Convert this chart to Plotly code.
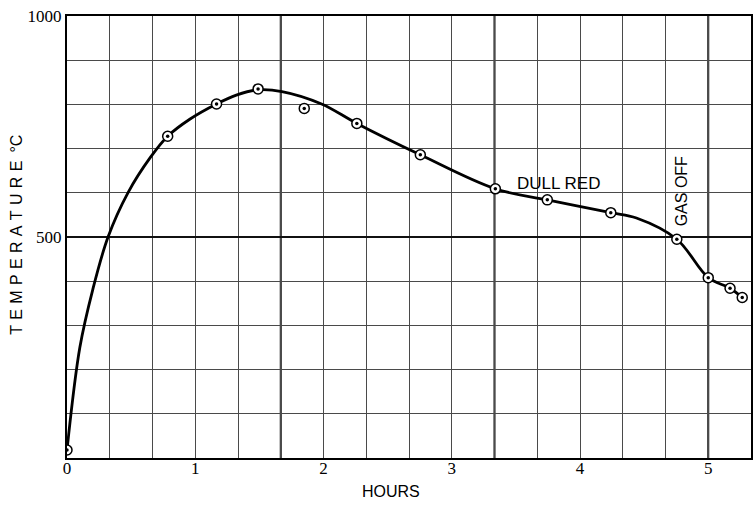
import plotly.graph_objects as go

# Observed readings: elapsed time (hours) and temperature (deg C)
obs_hours = [0, 0.785, 1.166, 1.49, 1.85, 2.26, 2.755, 3.34, 3.745, 4.24, 4.755, 5.0, 5.17, 5.265]
obs_temp = [18, 728, 801, 835, 791, 757, 686, 609, 584, 555, 495, 408, 384, 363]

# Hand-faired curve through the readings
curve_hours = [0, 0.1, 0.2, 0.32, 0.475, 0.65, 0.785, 0.96, 1.166,
               1.32, 1.49, 1.676, 1.985, 2.26, 2.755, 3.34,
               3.745, 4.24, 4.44, 4.755, 5.0, 5.17, 5.265]
curve_temp = [18, 250, 380, 500, 600, 680, 728, 767, 801,
              821, 833, 829, 801, 757, 686, 609,
              584, 555, 543, 495, 408, 384, 363]

x_ticks = [0, 1, 2, 3, 4, 5]
y_ticks = [500, 1000]
x_max = 16 / 3          # sixteen cells of 1/3 hour
y_max = 1000
heavy_every_x = 5 / 3   # heavier rule every fifth cell

serif = "Liberation Serif, Times New Roman, serif"
sans = "Liberation Sans, Arial, sans-serif"
grid_col = "#4a4a4a"

fig = go.Figure()

fig.add_trace(go.Scatter(
    x=curve_hours, y=curve_temp, mode="lines",
    line=dict(color="black", width=2.8, shape="spline", smoothing=1.0),
    hoverinfo="skip", showlegend=False,
))
fig.add_trace(go.Scatter(
    x=obs_hours, y=obs_temp, mode="markers",
    marker=dict(symbol="circle", size=10, color="white",
                line=dict(color="black", width=1.5)),
    showlegend=False,
))
fig.add_trace(go.Scatter(
    x=obs_hours, y=obs_temp, mode="markers",
    marker=dict(symbol="circle", size=3.5, color="black"),
    hoverinfo="skip", showlegend=False,
))

# heavier vertical rules every five cells
shapes = []
k = 1
while k * heavy_every_x < x_max - 1e-6:
    xv = k * heavy_every_x
    shapes.append(dict(type="line", xref="x", yref="paper", x0=xv, x1=xv, y0=0, y1=1,
                       line=dict(color="#111111", width=2), layer="below"))
    k += 1

y_title = "\u2004".join("TEMPERATURE") + "\u2002°C"

fig.update_layout(
    width=755, height=507,
    margin=dict(l=67, r=2, t=16, b=49),
    paper_bgcolor="white", plot_bgcolor="white",
    shapes=shapes,
    xaxis=dict(
        range=[0, x_max], tickvals=x_ticks, ticktext=[str(v) for v in x_ticks],
        showgrid=True, gridcolor=grid_col, gridwidth=1,
        minor=dict(dtick=1 / 3, tick0=0, showgrid=True, gridcolor=grid_col, gridwidth=1),
        showline=True, linecolor="black", linewidth=2, mirror=True,
        zeroline=False, ticks="", ticklabelstandoff=-6,
        tickfont=dict(family=serif, size=17, color="black"),
    ),
    yaxis=dict(
        range=[0, y_max], tickvals=y_ticks, ticktext=[str(v) for v in y_ticks],
        showgrid=True, gridcolor="#111111", gridwidth=2,
        minor=dict(dtick=100, tick0=0, showgrid=True, gridcolor=grid_col, gridwidth=1),
        showline=True, linecolor="black", linewidth=2, mirror=True,
        zeroline=False, ticks="", ticklabelstandoff=0,
        tickfont=dict(family=serif, size=17, color="black"),
    ),
    annotations=[
        dict(text="HOURS", xref="paper", yref="paper", x=0.473, y=-0.075,
             xanchor="center", yanchor="middle", showarrow=False,
             font=dict(family=sans, size=16, color="black")),
        dict(text=y_title,
             xref="paper", yref="paper", x=-0.073, y=0.505, textangle=-90,
             xanchor="center", yanchor="middle", showarrow=False,
             font=dict(family=sans, size=16, color="black")),
        dict(text="DULL RED", xref="x", yref="y", x=3.83, y=622,
             xanchor="center", yanchor="middle", showarrow=False,
             font=dict(family=sans, size=17, color="black")),
        dict(text="GAS OFF", xref="x", yref="y", x=4.79, y=604, textangle=-90,
             xanchor="center", yanchor="middle", showarrow=False,
             font=dict(family=sans, size=16, color="black")),
    ],
)

fig.write_html("out.html")
